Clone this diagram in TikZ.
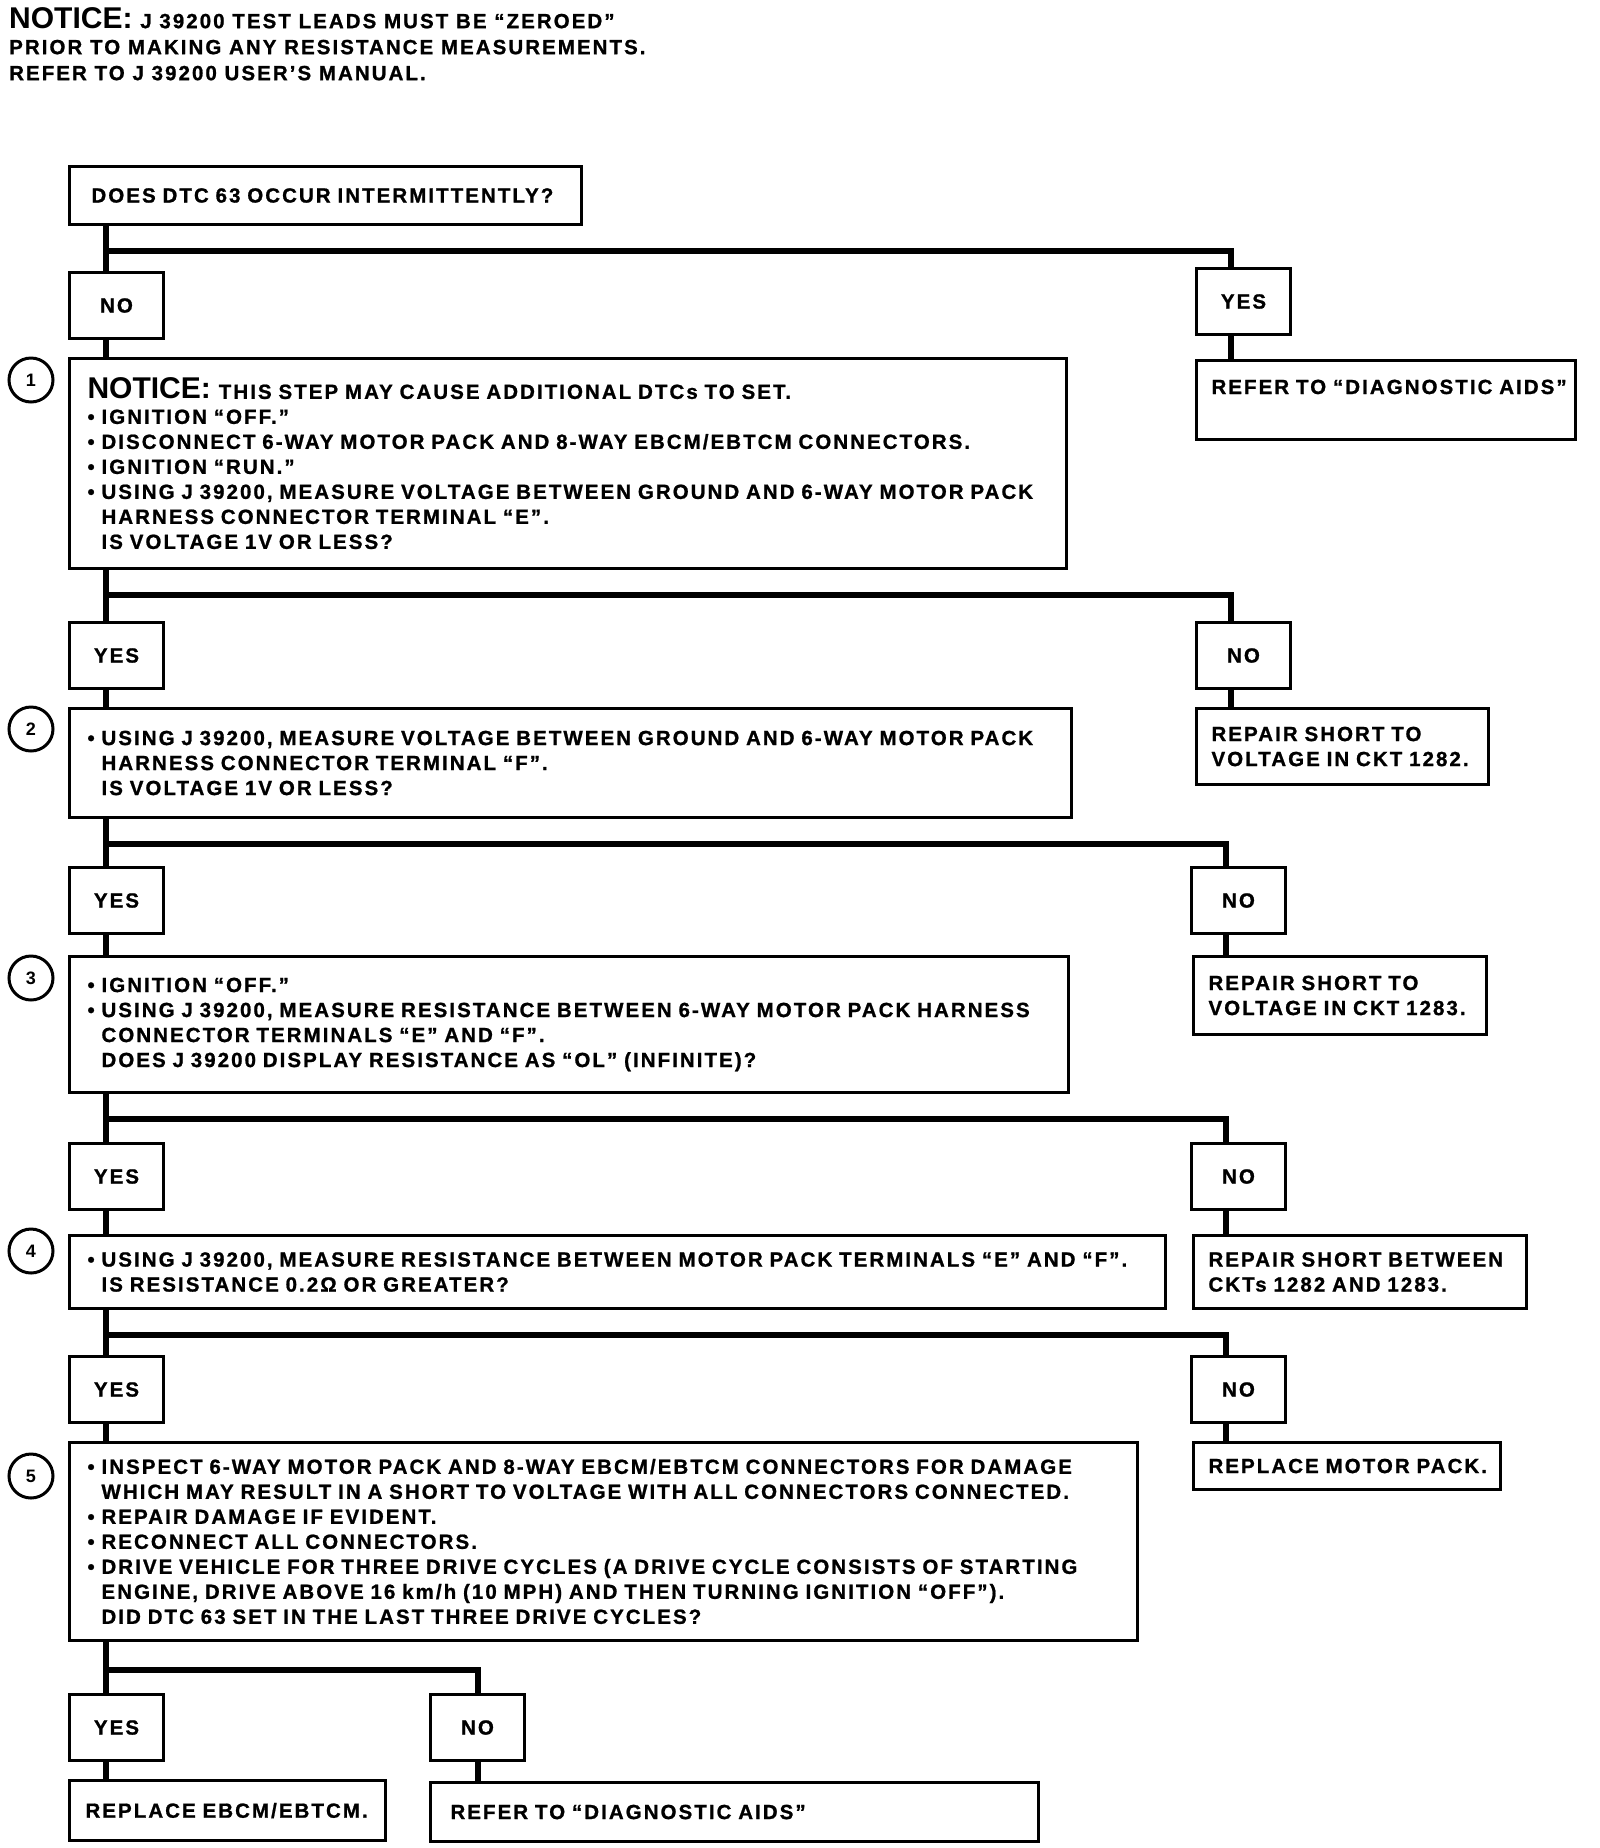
\documentclass[tikz,border=0pt]{standalone}
\usepackage{fontspec}
\usepackage{tikz}
\usetikzlibrary{positioning}
\setmainfont{Liberation Sans}
\newfontfamily\flowfont[LetterSpace=10, FakeBold=1]{Liberation Sans}
\newcommand\bodysize{\fontsize{20.5}{25}\selectfont}
\newcommand\ind{\hphantom{•\ }}
\newcommand\bignotice[1]{{\normalfont\bfseries\fontsize{30}{30}\selectfont #1}}

\begin{document}
\begin{tikzpicture}[x=1pt, y=-1pt,
    box/.style={draw, line width=3pt, anchor=north west, inner xsep=18pt,
                inner ysep=0pt, align=left, font=\flowfont\bfseries\bodysize},
    ansbox/.style={draw, line width=3pt, anchor=north west, inner sep=0pt,
                minimum width=94pt, minimum height=66pt, font=\flowfont\bfseries\bodysize},
    stepnum/.style={draw, circle, line width=3pt, minimum size=44pt, inner sep=0pt,
                font=\bfseries\fontsize{18}{18}\selectfont},
    link/.style={line width=6pt}]
  \path[use as bounding box, fill=white] (0,0) rectangle (1600,1848);

  % notice at the top
  \node[anchor=north west, inner sep=0pt, align=left,
        font=\flowfont\bfseries\fontsize{20.5}{26}\selectfont] (notice) at (9,7)
    {\bignotice{NOTICE:} J 39200 TEST LEADS MUST BE “ZEROED”\\
     PRIOR TO MAKING ANY RESISTANCE MEASUREMENTS.\\
     REFER TO J 39200 USER’S MANUAL.};

  % questions
  \node[box, minimum width=512pt, minimum height=58pt, inner xsep=22pt, text width=468pt] (q0) at (68,165)
    {DOES DTC 63 OCCUR INTERMITTENTLY?};
  \node[box, minimum width=997pt, minimum height=210pt, text width=961pt] (q1) at (68,357)
    {\bignotice{NOTICE:}\hspace{8pt}THIS STEP MAY CAUSE ADDITIONAL DTCs TO SET.\\
     • IGNITION “OFF.”\\
     • DISCONNECT 6-WAY MOTOR PACK AND 8-WAY EBCM/EBTCM CONNECTORS.\\
     • IGNITION “RUN.”\\
     • USING J 39200, MEASURE VOLTAGE BETWEEN GROUND AND 6-WAY MOTOR PACK\\
     \ind HARNESS CONNECTOR TERMINAL “E”.\\
     \ind IS VOLTAGE 1V OR LESS?};
  \node[box, minimum width=1002pt, minimum height=109pt, text width=966pt] (q2) at (68,707)
    {• USING J 39200, MEASURE VOLTAGE BETWEEN GROUND AND 6-WAY MOTOR PACK\\
     \ind HARNESS CONNECTOR TERMINAL “F”.\\
     \ind IS VOLTAGE 1V OR LESS?};
  \node[box, minimum width=999pt, minimum height=136pt, text width=963pt] (q3) at (68,955)
    {• IGNITION “OFF.”\\
     • USING J 39200, MEASURE RESISTANCE BETWEEN 6-WAY MOTOR PACK HARNESS\\
     \ind CONNECTOR TERMINALS “E” AND “F”.\\
     \ind DOES J 39200 DISPLAY RESISTANCE AS “OL” (INFINITE)?};
  \node[box, minimum width=1096pt, minimum height=73pt, text width=1060pt] (q4) at (68,1234)
    {• USING J 39200, MEASURE RESISTANCE BETWEEN MOTOR PACK TERMINALS “E” AND “F”.\\
     \ind IS RESISTANCE 0.2Ω OR GREATER?};
  \node[box, minimum width=1068pt, minimum height=198pt, text width=1032pt] (q5) at (68,1441)
    {• INSPECT 6-WAY MOTOR PACK AND 8-WAY EBCM/EBTCM CONNECTORS FOR DAMAGE\\
     \ind WHICH MAY RESULT IN A SHORT TO VOLTAGE WITH ALL CONNECTORS CONNECTED.\\
     • REPAIR DAMAGE IF EVIDENT.\\
     • RECONNECT ALL CONNECTORS.\\
     • DRIVE VEHICLE FOR THREE DRIVE CYCLES (A DRIVE CYCLE CONSISTS OF STARTING\\
     \ind ENGINE, DRIVE ABOVE 16 km/h (10 MPH) AND THEN TURNING IGNITION “OFF”).\\
     \ind DID DTC 63 SET IN THE LAST THREE DRIVE CYCLES?};

  % step numbers
  \node[stepnum] (n1) at (31,380) {1};
  \node[stepnum] (n2) at (31,729) {2};
  \node[stepnum] (n3) at (31,978) {3};
  \node[stepnum] (n4) at (31,1251) {4};
  \node[stepnum] (n5) at (31,1476) {5};

  % answers
  \node[ansbox] (la0) at (68,271) {NO};
  \node[ansbox] (ra0) at (1195,267) {YES};
  \node[ansbox] (la1) at (68,621) {YES};
  \node[ansbox] (ra1) at (1195,621) {NO};
  \node[ansbox] (la2) at (68,866) {YES};
  \node[ansbox] (ra2) at (1190,866) {NO};
  \node[ansbox] (la3) at (68,1142) {YES};
  \node[ansbox] (ra3) at (1190,1142) {NO};
  \node[ansbox] (la4) at (68,1355) {YES};
  \node[ansbox] (ra4) at (1190,1355) {NO};
  \node[ansbox] (la5) at (68,1693) {YES};
  \node[ansbox] (ra5) at (429,1693) {NO};

  % results
  \node[box, minimum width=379pt, minimum height=79pt, inner xsep=15pt, inner ysep=19pt,
        text width=349pt, text height=14pt, text depth=26pt] (rr0) at (1195,359)
    {REFER TO “DIAGNOSTIC AIDS”};
  \node[box, minimum width=292pt, minimum height=76pt, inner xsep=15pt, text width=262pt] (rr1) at (1195,707)
    {REPAIR SHORT TO\\VOLTAGE IN CKT 1282.};
  \node[box, minimum width=293pt, minimum height=78pt, inner xsep=15pt, text width=263pt] (rr2) at (1192,955)
    {REPAIR SHORT TO\\VOLTAGE IN CKT 1283.};
  \node[box, minimum width=333pt, minimum height=73pt, inner xsep=15pt, text width=303pt] (rr3) at (1192,1234)
    {REPAIR SHORT BETWEEN\\CKTs 1282 AND 1283.};
  \node[box, minimum width=307pt, minimum height=47pt, inner xsep=15pt, text width=277pt] (rr4) at (1192,1441)
    {REPLACE MOTOR PACK.};
  \node[box, minimum width=316pt, minimum height=60pt, inner xsep=16pt, text width=284pt] (rr5a) at (68,1779)
    {\mbox{REPLACE EBCM/EBTCM.}};
  \node[box, minimum width=608pt, minimum height=59pt, inner xsep=20pt, text width=568pt] (rr5b) at (429,1781)
    {REFER TO “DIAGNOSTIC AIDS”};

  % connectors
  \foreach \i/\j in {0/1,1/2,2/3,3/4,4/5} {
    \draw[link] ([xshift=38pt]q\i.south west) -- ([xshift=38pt]la\i.north west);
    \draw[link] ([xshift=38pt]la\i.south west) -- ([xshift=38pt]q\j.north west);
    \draw[link] ([xshift=38pt]q\i.south west) ++(0,25) -| ([xshift=36pt]ra\i.north west);
    \draw[link] ([xshift=36pt]ra\i.south west) -- ([xshift=36pt]ra\i.south west |- rr\i.north);
  }
  \draw[link] ([xshift=38pt]q5.south west) -- ([xshift=38pt]la5.north west);
  \draw[link] ([xshift=38pt]q5.south west) ++(0,28) -| (ra5.north);
  \draw[link] ([xshift=38pt]la5.south west) -- ([xshift=38pt]rr5a.north west);
  \draw[link] (ra5.south) -- (rr5b.north -| ra5.south);
\end{tikzpicture}
\end{document}
